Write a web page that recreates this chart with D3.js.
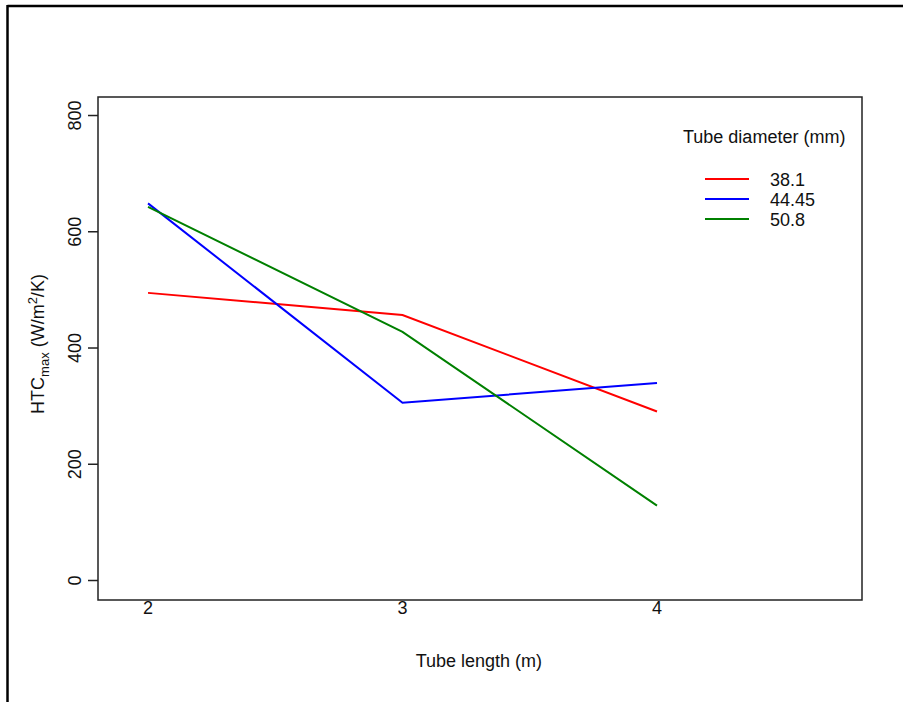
<!DOCTYPE html>
<html>
<head>
<meta charset="utf-8">
<script src="https://cdn.jsdelivr.net/npm/d3@7"></script>
<style>
  body { margin: 0; background: #fff; }
  text { font-family: "Liberation Sans", Arial, sans-serif; fill: #111; }
</style>
</head>
<body>
<svg id="chart" width="903" height="702"></svg>
<script>
// tube length (m) and max heat transfer coefficient for each tube diameter
const lengths = [2, 3, 4];
const htc381 = [494, 456, 290];
const htc4445 = [648, 305, 339];
const htc508 = [642, 427, 128];

const seriesNames = ["38.1", "44.45", "50.8"];
const seriesColors = ["#ff0000", "#0000ff", "#008000"];
const yTicks = [0, 200, 400, 600, 800];

const svg = d3.select("#chart");

// outer frame (cropped: only left and top edges visible)
svg.append("line").attr("x1", 7.5).attr("x2", 903).attr("y1", 6).attr("y2", 6)
  .attr("stroke", "#000").attr("stroke-width", 2.5);
svg.append("line").attr("x1", 7.5).attr("x2", 7.5).attr("y1", 5).attr("y2", 702)
  .attr("stroke", "#000").attr("stroke-width", 2.5);

const x = d3.scaleLinear().domain([1.8035, 4.8055]).range([98, 862]);
const y = d3.scaleLinear().domain([-34.4, 831]).range([600, 97]);

// plot box
svg.append("rect")
  .attr("x", x.range()[0]).attr("y", y.range()[1])
  .attr("width", x.range()[1] - x.range()[0])
  .attr("height", y.range()[0] - y.range()[1])
  .attr("fill", "none").attr("stroke", "#222").attr("stroke-width", 1.5);

// y axis
const yAxis = svg.append("g")
  .attr("transform", `translate(${x.range()[0]},0)`)
  .call(d3.axisLeft(y).tickValues(yTicks).tickSize(10).tickFormat(d3.format("d")));
yAxis.select(".domain").remove();
yAxis.selectAll(".tick line").attr("stroke", "#222").attr("stroke-width", 1.5);
yAxis.selectAll(".tick text")
  .attr("x", null).attr("dy", null)
  .attr("text-anchor", "middle")
  .attr("transform", "translate(-17,0) rotate(-90)")
  .style("font-size", "18px").style("font-family", "Liberation Sans, Arial, sans-serif")
  .attr("fill", "#111");

// x tick labels (no tick marks)
svg.append("g").selectAll("text")
  .data(lengths)
  .join("text")
  .attr("x", d => x(d))
  .attr("y", 614)
  .attr("text-anchor", "middle")
  .style("font-size", "18px")
  .text(d => d);

// axis titles
svg.append("text")
  .attr("x", x(3.3))
  .attr("y", 667)
  .attr("text-anchor", "middle")
  .style("font-size", "18px")
  .text("Tube length (m)");

const yLab = svg.append("text")
  .attr("transform", "translate(44,344) rotate(-90)")
  .attr("text-anchor", "middle")
  .style("font-size", "18px");
yLab.append("tspan").text("HTC");
yLab.append("tspan").attr("dy", 5).style("font-size", "13px").text("max");
yLab.append("tspan").attr("dy", -5).text(" (W/m");
yLab.append("tspan").attr("dy", -7).style("font-size", "13px").text("2");
yLab.append("tspan").attr("dy", 7).text("/K)");

// series lines
const line = d3.line().x((d, i) => x(lengths[i])).y(d => y(d));
[htc381, htc4445, htc508].forEach((vals, k) => {
  svg.append("path")
    .datum(vals)
    .attr("d", line)
    .attr("fill", "none")
    .attr("stroke", seriesColors[k])
    .attr("stroke-width", 2);
});

// legend
const legend = svg.append("g");
legend.append("text")
  .attr("x", 683).attr("y", 143)
  .style("font-size", "18px")
  .text("Tube diameter (mm)");
seriesNames.forEach((name, i) => {
  const ly = 179 + i * 20;
  legend.append("line")
    .attr("x1", 705).attr("x2", 749).attr("y1", ly).attr("y2", ly)
    .attr("stroke", seriesColors[i]).attr("stroke-width", 2);
  legend.append("text")
    .attr("x", 770).attr("y", ly + 6.5)
    .style("font-size", "18px")
    .text(name);
});
</script>
</body>
</html>
